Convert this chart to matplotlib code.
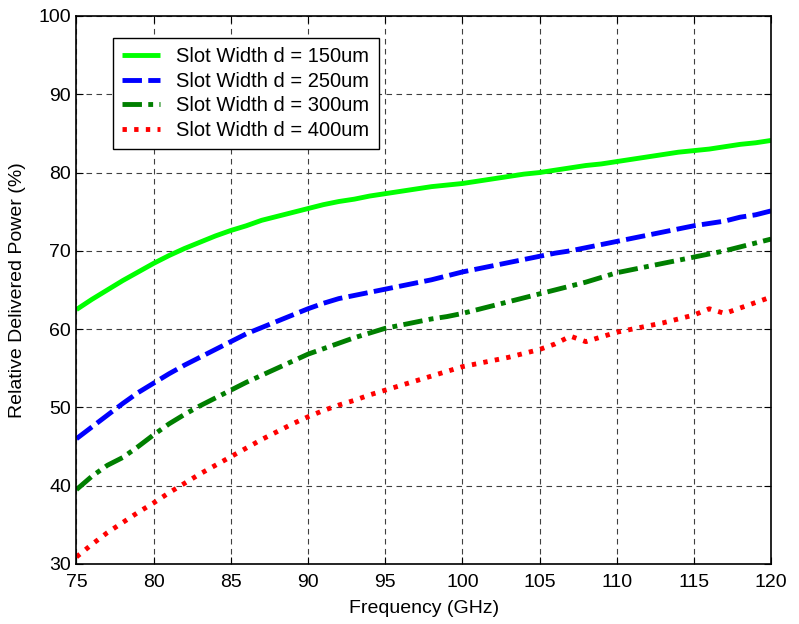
import matplotlib
matplotlib.use("Agg")
import matplotlib.pyplot as plt
import numpy as np

plt.rcParams['font.family'] = ['Liberation Sans', 'DejaVu Sans']

freq = list(range(75, 121))
p150 = [62.5, 63.8, 65.0, 66.2, 67.3, 68.4, 69.4, 70.3, 71.1, 71.9,
        72.6, 73.2, 73.9, 74.4, 74.9, 75.4, 75.9, 76.3, 76.6, 77.0,
        77.3, 77.6, 77.9, 78.2, 78.4, 78.6, 78.9, 79.2, 79.5, 79.8,
        80.0, 80.3, 80.6, 80.9, 81.1, 81.4, 81.7, 82.0, 82.3, 82.6,
        82.8, 83.0, 83.3, 83.6, 83.8, 84.1]
p250 = [46.0, 47.5, 49.0, 50.5, 51.9, 53.1, 54.3, 55.4, 56.4, 57.4,
        58.4, 59.4, 60.2, 61.0, 61.8, 62.6, 63.3, 63.9, 64.3, 64.7,
        65.1, 65.5, 65.9, 66.3, 66.8, 67.3, 67.7, 68.1, 68.5, 68.9,
        69.3, 69.7, 70.0, 70.4, 70.8, 71.2, 71.6, 72.0, 72.4, 72.8,
        73.2, 73.5, 73.8, 74.3, 74.6, 75.1]
p300 = [39.5, 41.2, 42.6, 43.6, 45.0, 46.5, 47.9, 49.1, 50.2, 51.2,
        52.2, 53.2, 54.1, 55.0, 55.9, 56.8, 57.5, 58.2, 58.9, 59.5,
        60.1, 60.5, 60.9, 61.3, 61.6, 62.0, 62.5, 63.0, 63.5, 64.0,
        64.5, 65.0, 65.5, 66.0, 66.6, 67.2, 67.6, 68.0, 68.4, 68.8,
        69.2, 69.6, 70.0, 70.5, 71.0, 71.5]
p400 = [30.9, 32.5, 34.0, 35.3, 36.6, 37.8, 39.1, 40.3, 41.5, 42.6,
        43.7, 44.8, 45.9, 46.9, 47.9, 48.8, 49.6, 50.3, 50.9, 51.6,
        52.2, 52.8, 53.4, 54.0, 54.6, 55.2, 55.6, 56.0, 56.4, 56.9,
        57.4, 58.1, 59.1, 58.4, 59.0, 59.6, 60.0, 60.4, 60.8, 61.3,
        61.8, 62.6, 62.0, 62.7, 63.4, 64.1]

series = [
    (p150, 'Slot Width d = 150um', '#00ff00', None),
    (p250, 'Slot Width d = 250um', '#0000ff', (4, 1.3)),
    (p300, 'Slot Width d = 300um', '#007f00', (4, 1.3, 1, 1.3)),
    (p400, 'Slot Width d = 400um', '#ff0000', (0.9, 1.5)),
]

fig = plt.figure(figsize=(7.99, 6.24), dpi=100)
ax = fig.add_axes([0.0957, 0.0962, 0.8693, 0.8782])

lw = 3.5
for vals, lab, col, dash in series:
    line, = ax.plot(freq, vals, color=col, lw=lw, label=lab,
                    solid_capstyle='butt', dash_capstyle='butt')
    if dash is not None:
        line.set_dashes(dash)

ax.set_xlim(75, 120)
ax.set_ylim(30, 100)
ax.set_xticks(np.arange(75, 121, 5))
ax.set_yticks(np.arange(30, 101, 10))
ax.grid(True, color='0.25', linestyle=(0, (5, 4)), linewidth=0.8)
ax.tick_params(direction='in', top=True, right=True, labelsize=14, length=5)
ax.tick_params(axis='x', pad=7)
ax.tick_params(axis='y', pad=4)
for s in ax.spines.values():
    s.set_linewidth(1.2)
ax.set_xlabel('Frequency (GHz)', fontsize=14, labelpad=7)
ax.set_ylabel('Relative Delivered Power (%)', fontsize=14, labelpad=9)

leg = ax.legend(loc='upper left', bbox_to_anchor=(0.0526, 0.96), borderaxespad=0,
                fontsize=14.5, handlelength=1.9, handletextpad=0.8, labelspacing=0.28,
                fancybox=False, framealpha=1, edgecolor='black', borderpad=0.45)
leg.get_frame().set_linewidth(1.0)

fig.savefig('out.png', dpi=100)
